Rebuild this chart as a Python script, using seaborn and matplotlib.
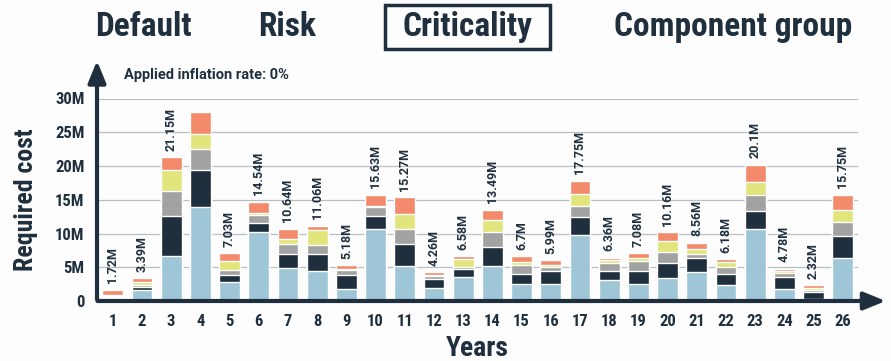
import numpy as np
import pandas as pd
import matplotlib.pyplot as plt
import seaborn as sns
from matplotlib.patches import Rectangle

# cost per criticality level, in millions, years 1..26 (bottom -> top)
years = [str(i) for i in range(1, 27)]
very_low = [0.40, 1.68, 6.62, 13.94, 2.77, 10.23, 4.94, 4.45, 1.83, 10.73, 5.14, 1.98, 3.56,
            5.14, 2.57, 2.57, 9.74, 3.16, 2.47, 3.36, 4.30, 2.32, 10.63, 1.83, 0.35, 6.38]
low = [0.20, 0.40, 6.03, 5.44, 1.04, 1.34, 2.08, 2.47, 1.98, 1.83, 3.36, 1.33, 1.19,
       2.87, 1.48, 1.83, 2.72, 1.29, 1.98, 2.28, 2.08, 1.63, 2.72, 1.73, 0.98, 3.26]
medium = [0.15, 0.34, 3.61, 3.21, 0.74, 1.13, 1.48, 1.43, 0.74, 1.38, 2.23, 0.35, 0.29,
          2.22, 1.24, 0.64, 1.58, 1.23, 1.43, 1.58, 0.64, 1.09, 2.32, 0.59, 0.35, 2.08]
high = [0.20, 0.38, 3.12, 2.08, 1.33, 0.35, 0.74, 2.13, 0.20, 0.20, 2.12, 0.24, 1.24,
        1.73, 0.49, 0.25, 1.88, 0.35, 0.50, 1.63, 0.74, 0.74, 1.98, 0.30, 0.30, 1.82]
very_high = [0.75, 0.56, 1.88, 3.26, 1.19, 1.63, 1.49, 0.64, 0.54, 1.53, 2.52, 0.35, 0.34,
             1.58, 0.84, 0.74, 1.88, 0.35, 0.69, 1.33, 0.84, 0.40, 2.47, 0.34, 0.34, 2.23]
total_labels = ["1.72M", "3.39M", "21.15M", "", "7.03M", "14.54M", "10.64M", "11.06M", "5.18M",
                "15.63M", "15.27M", "4.26M", "6.58M", "13.49M", "6.7M", "5.99M", "17.75M",
                "6.36M", "7.08M", "10.16M", "8.56M", "6.18M", "20.1M", "4.78M", "2.32M", "15.75M"]
y_ticks = [0, 5, 10, 15, 20, 25, 30]
y_tick_labels = ["0", "5M", "10M", "15M", "20M", "25M", "30M"]
tabs = ["Default", "Risk", "Criticality", "Component group"]

levels = ["very_low", "low", "medium", "high", "very_high"]
colors = ["#9ec6d7", "#1f2f3d", "#a2a2a2", "#e2e47c", "#f38a6c"]
navy = "#1f2f3d"

df = pd.DataFrame({"year": years, "very_low": very_low, "low": low, "medium": medium,
                   "high": high, "very_high": very_high})

sns.set_theme(style="white")
plt.rcParams["font.family"] = ["Roboto Condensed", "Roboto", "DejaVu Sans"]
plt.rcParams["font.weight"] = "bold"
wide = ["Roboto", "DejaVu Sans"]

W, H = 891, 361
fig = plt.figure(figsize=(W / 100, H / 100), dpi=100)
fig.patch.set_facecolor("#fdfdfd")
ax = fig.add_axes([97 / W, 60 / H, 761 / W, 202.5 / H])
ax.set_facecolor("#fdfdfd")

# stacked bars: draw cumulative sums from top level down so lower ones cover
cum = df[levels].cumsum(axis=1)
for lvl, col in reversed(list(zip(levels, colors))):
    sns.barplot(x=df["year"], y=cum[lvl], color=col, width=0.71, saturation=1,
                ax=ax, zorder=3)

totals = cum["very_high"]
for i, lab in enumerate(total_labels):
    if lab:
        ax.text(i, totals[i] + 1.0, lab, rotation=90, ha="center", va="bottom",
                fontsize=9, color=navy, fontweight="bold", family=wide)

ax.set_ylim(0, 30)
ax.set_xlim(-0.54, 25.52)
ax.set_yticks(y_ticks)
ax.set_yticklabels(y_tick_labels)
ax.yaxis.grid(True, color="#b8bec4", linewidth=0.9, zorder=0)
ax.tick_params(axis="both", length=0, labelsize=12, labelcolor=navy, pad=9)
for t in ax.get_xticklabels() + ax.get_yticklabels():
    t.set_fontweight("bold")
for s in ["top", "right", "left", "bottom"]:
    ax.spines[s].set_visible(False)

ax.set_xlabel("Years", fontsize=20, fontweight="bold", color=navy, labelpad=5)
ax.set_ylabel("Required cost", fontsize=18.5, fontweight="bold", color=navy, labelpad=12)

# axis arrows
ax.annotate("", xy=(0, 1.2), xycoords="axes fraction", xytext=(0, -0.005),
            arrowprops=dict(arrowstyle="-|>,head_length=1.1,head_width=0.45",
                            color=navy, lw=3), annotation_clip=False)
ax.annotate("", xy=(1.04, 0), xycoords="axes fraction", xytext=(-0.003, 0),
            arrowprops=dict(arrowstyle="-|>,head_length=1.1,head_width=0.45",
                            color=navy, lw=3), annotation_clip=False)

fig.text(124 / W, 1 - 75 / H, "Applied inflation rate: 0%", fontsize=10.5,
         fontweight="bold", color=navy, va="center", family=wide)

tab_x = [95, 258, 403, 614]
for x, name in zip(tab_x, tabs):
    fig.text(x / W, 1 - 27 / H, name, fontsize=24, fontweight="bold",
             color=navy, va="center", ha="left")
fig.patches.append(Rectangle((385 / W, 1 - 49 / H), 165 / W, 44 / H, fill=False,
                             ec=navy, lw=2.5, transform=fig.transFigure))

fig.savefig("out.png", dpi=100, facecolor=fig.get_facecolor())
